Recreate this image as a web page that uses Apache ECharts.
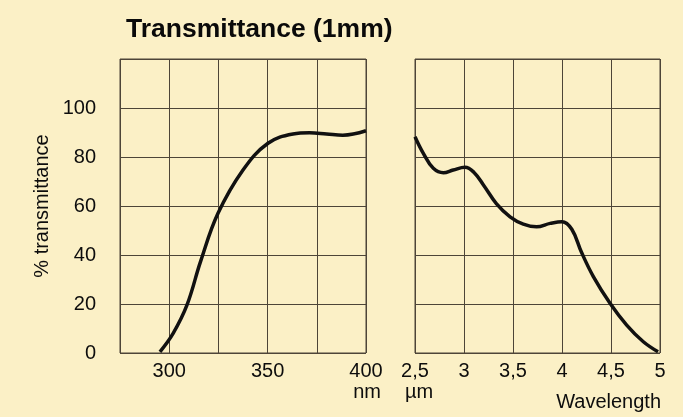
<!DOCTYPE html>
<html>
<head>
<meta charset="utf-8">
<script src="https://cdn.jsdelivr.net/npm/echarts@6/dist/echarts.min.js"></script>
<style>
  html, body { margin: 0; padding: 0; background: #fbf0c6; }
  #chart { width: 683px; height: 417px; }
</style>
</head>
<body>
<div id="chart"></div>
<script>
// UV range, wavelength in nm
const uvNm = [295.3, 302, 309, 316, 324.8, 337.5, 350.2, 362.9, 371.3, 380, 388.2, 400];
const uvT = [0.5, 8, 19.5, 37.5, 57, 74.7, 85.6, 89.4, 89.9, 89.4, 88.9, 90.7];

// IR range, wavelength in µm
const irUm = [2.5, 2.585, 2.687, 2.79, 2.89, 3.01, 3.1, 3.2, 3.33, 3.47, 3.605, 3.74, 3.88, 4.0, 4.1, 4.2, 4.32, 4.49, 4.66, 4.83, 4.98];
const irT = [88.3, 81.5, 75.4, 73.6, 74.7, 75.8, 73.8, 68.5, 61, 55.6, 52.6, 51.5, 52.9, 53.6, 50.5, 41, 31.2, 20.3, 11.4, 4.6, 0.5];

const nmLabels = [300, 350, 400];
const yLabels = [0, 20, 40, 60, 80, 100];

const font = 'Liberation Sans, Arial, sans-serif';
const lineCol = '#4d4538';
const textCol = '#0d0d0d';

const chart = echarts.init(document.getElementById('chart'));

const labelStyle = { color: textCol, fontSize: 20, fontFamily: font };
const splitStyle = { show: true, lineStyle: { color: lineCol, width: 1 } };

const option = {
  animation: false,
  backgroundColor: '#fbf0c6',
  title: {
    text: 'Transmittance (1mm)',
    left: 121,
    top: 11,
    textStyle: { color: '#0a0a0a', fontSize: 26.5, fontWeight: 'bold', fontFamily: font }
  },
  grid: [
    { left: 120, top: 59, width: 246, height: 294, show: true, borderColor: lineCol, borderWidth: 1, backgroundColor: 'transparent' },
    { left: 415, top: 59, width: 245, height: 294, show: true, borderColor: lineCol, borderWidth: 1, backgroundColor: 'transparent' }
  ],
  xAxis: [
    {
      gridIndex: 0, type: 'value', min: 275, max: 400, interval: 25,
      axisLine: { show: false }, axisTick: { show: false },
      splitLine: splitStyle,
      axisLabel: {
        ...labelStyle, margin: 8, showMinLabel: true, showMaxLabel: true,
        formatter: v => nmLabels.includes(v) ? String(v) : ''
      }
    },
    {
      gridIndex: 1, type: 'value', min: 2.5, max: 5, interval: 0.5,
      axisLine: { show: false }, axisTick: { show: false },
      splitLine: splitStyle,
      axisLabel: {
        ...labelStyle, margin: 8, showMinLabel: true, showMaxLabel: true,
        formatter: v => String(v).replace('.', ',')
      }
    }
  ],
  yAxis: [
    {
      gridIndex: 0, type: 'value', min: 0, max: 120, interval: 20,
      axisLine: { show: false }, axisTick: { show: false },
      splitLine: splitStyle,
      axisLabel: { ...labelStyle, margin: 24, formatter: v => yLabels.includes(v) ? String(v) : '' },
      name: '% transmittance',
      nameLocation: 'middle',
      nameGap: 68,
      nameTextStyle: { color: textCol, fontSize: 20, fontFamily: font }
    },
    {
      gridIndex: 1, type: 'value', min: 0, max: 120, interval: 20,
      axisLine: { show: false }, axisTick: { show: false },
      splitLine: splitStyle,
      axisLabel: { show: false }
    }
  ],
  graphic: [
    { type: 'text', right: 683 - 381, top: 382, style: { text: 'nm', fill: textCol, fontSize: 20, fontFamily: font } },
    { type: 'text', left: 405, top: 382, style: { text: 'µm', fill: textCol, fontSize: 20, fontFamily: font } },
    { type: 'text', right: 683 - 661, top: 392, style: { text: 'Wavelength', fill: textCol, fontSize: 20, fontFamily: font } }
  ],
  series: [
    {
      type: 'line', xAxisIndex: 0, yAxisIndex: 0, smooth: 0.4, symbol: 'none',
      lineStyle: { color: '#111', width: 3.5 },
      data: uvNm.map((x, i) => [x, uvT[i]])
    },
    {
      type: 'line', xAxisIndex: 1, yAxisIndex: 1, smooth: 0.4, symbol: 'none',
      lineStyle: { color: '#111', width: 3.5 },
      data: irUm.map((x, i) => [x, irT[i]])
    }
  ]
};

chart.setOption(option);
</script>
</body>
</html>
